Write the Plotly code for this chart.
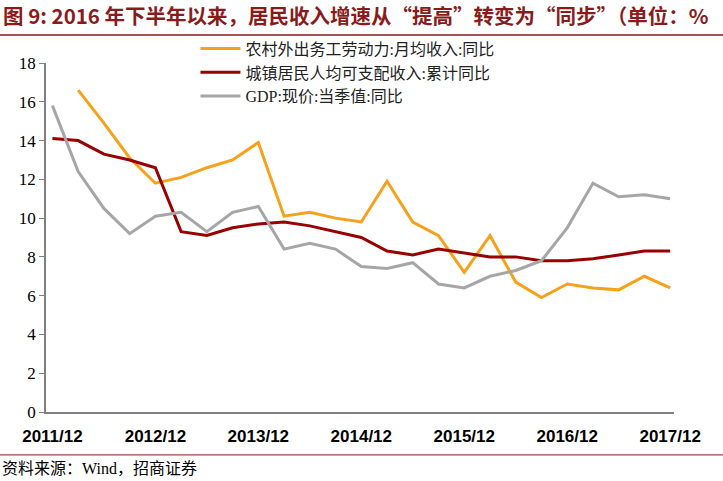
import plotly.graph_objects as go

# quarterly points, 2011/12 .. 2017/12
quarters = ["2011/12", "2012/03", "2012/06", "2012/09", "2012/12", "2013/03", "2013/06",
            "2013/09", "2013/12", "2014/03", "2014/06", "2014/09", "2014/12", "2015/03",
            "2015/06", "2015/09", "2015/12", "2016/03", "2016/06", "2016/09", "2016/12",
            "2017/03", "2017/06", "2017/09", "2017/12"]
migrant = [None, 16.6, 14.9, 13.1, 11.8, 12.1, 12.6, 13.0, 13.9, 10.1, 10.3, 10.0, 9.8,
           11.9, 9.8, 9.1, 7.2, 9.1, 6.7, 5.9, 6.6, 6.4, 6.3, 7.0, 6.4]
urban = [14.1, 14.0, 13.3, 13.0, 12.6, 9.3, 9.1, 9.5, 9.7, 9.8, 9.6, 9.3, 9.0,
         8.3, 8.1, 8.4, 8.2, 8.0, 8.0, 7.8, 7.8, 7.9, 8.1, 8.3, 8.3]
gdp = [15.8, 12.4, 10.5, 9.2, 10.1, 10.3, 9.3, 10.3, 10.6, 8.4, 8.7, 8.4, 7.5,
       7.4, 7.7, 6.6, 6.4, 7.0, 7.3, 7.8, 9.5, 11.8, 11.1, 11.2, 11.0]
xticks = ["2011/12", "2012/12", "2013/12", "2014/12", "2015/12", "2016/12", "2017/12"]

cjk = "Noto Sans CJK SC"
dark_red = "#8B1A1A"

fig = go.Figure()
fig.add_trace(go.Scatter(x=quarters, y=migrant, mode="lines", name="农村外出务工劳动力:月均收入:同比",
                         line=dict(color="#F7A11A", width=3)))
fig.add_trace(go.Scatter(x=quarters, y=urban, mode="lines", name="城镇居民人均可支配收入:累计同比",
                         line=dict(color="#990000", width=3)))
fig.add_trace(go.Scatter(x=quarters, y=gdp, mode="lines", name="GDP:现价:当季值:同比",
                         line=dict(color="#A6A6A6", width=3)))

fig.update_layout(
    width=723, height=481,
    margin=dict(l=46, r=49, t=63, b=69, autoexpand=False),
    paper_bgcolor="white", plot_bgcolor="white",
    font=dict(family=cjk, color="#000000"),
    showlegend=True,
    legend=dict(x=0.238, y=1.09, xanchor="left", yanchor="top",
                font=dict(family="Liberation Serif, " + cjk, size=16, color="#222"),
                bgcolor="rgba(0,0,0,0)", tracegroupgap=0, itemwidth=40),
)
fig.update_xaxes(type="category", range=[-0.25, 24.15], tickmode="array", tickvals=xticks,
                 ticktext=["<b>%s</b>" % t for t in xticks], showgrid=False, showline=True,
                 linecolor="#808080", linewidth=1.5, ticks="", ticklabelstandoff=8,
                 tickfont=dict(family="Liberation Sans Narrow, Arial", size=17, color="#000"))
fig.update_yaxes(range=[0, 18], dtick=2, showgrid=False, zeroline=False, showline=True,
                 linecolor="#808080", linewidth=1.5, ticks="outside", ticklen=5,
                 tickcolor="#808080", tickfont=dict(family="Liberation Serif", size=17, color="#000"))

fig.add_annotation(text="<b>图 9: 2016 年下半年以来，居民收入增速从“提高”转变为“同步”（单位：%</b>",
                   xref="paper", yref="paper", x=-0.071, y=1.1375, xanchor="left", yanchor="middle",
                   showarrow=False, font=dict(family=cjk, size=20.5, color=dark_red))
fig.add_annotation(text="资料来源：Wind，招商证券", xref="paper", yref="paper", x=-0.073, y=-0.163,
                   xanchor="left", yanchor="middle", showarrow=False,
                   font=dict(family="Liberation Serif, " + cjk, size=16, color="#000"))
fig.add_shape(type="line", xref="paper", yref="paper", x0=-0.075, x1=1.08, y0=1.08, y1=1.08,
              line=dict(color=dark_red, width=1.5))
fig.add_shape(type="line", xref="paper", yref="paper", x0=-0.075, x1=1.08, y0=-0.123, y1=-0.123,
              line=dict(color=dark_red, width=1))

# drop the browser's default body margin so the figure sits at the window's corner
fig.write_html("out.html", config={"displayModeBar": False},
               post_script="document.body.style.margin='0';")
